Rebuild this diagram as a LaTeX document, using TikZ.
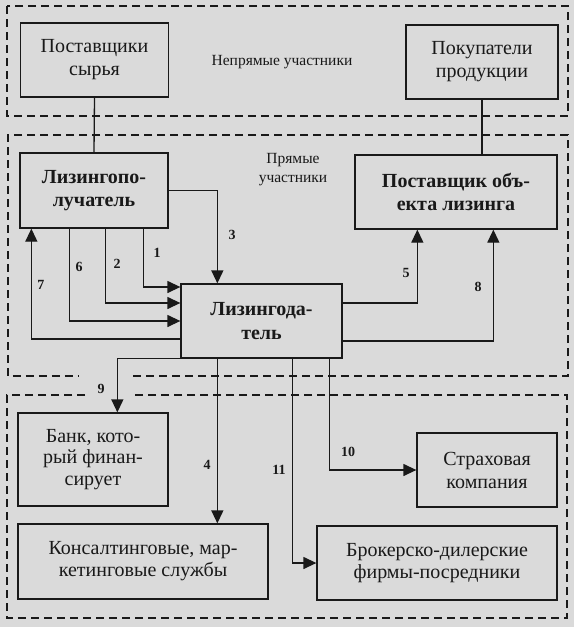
\documentclass[tikz,border=0pt]{standalone}
\usepackage{fontspec}
\setmainfont{Liberation Serif}
\usetikzlibrary{arrows.meta}
\definecolor{paper}{RGB}{218,218,218}
\definecolor{ink}{RGB}{25,25,25}

\begin{document}
\begin{tikzpicture}[
          x=1pt, y=-1pt,
          box/.style={
            draw=ink,
            line width=1.3pt,
            align=center,
            text=ink,
            font=\fontsize{20}{23}\selectfont,
          },
          bbox/.style={
            box,
            font=\bfseries\fontsize{20}{23.5}\selectfont,
          },
          zone/.style={draw=ink, line width=2pt, dash pattern=on 8pt off 5pt},
          num/.style={font=\bfseries\fontsize{14}{16}\selectfont, text=ink},
          note/.style={align=center, text=ink, font=\fontsize{15.5}{19}\selectfont},
          arr/.style={draw=ink, line width=1.3pt, -{Triangle[length=13pt,width=12pt]}},
          link/.style={draw=ink, line width=1.3pt},
          vh/.style={to path={|- (\tikztotarget)}},
          hv/.style={to path={-| (\tikztotarget)}},
        ]
          \useasboundingbox[fill=paper] (0,0) rectangle (574,627);

          % groups of participants
          \draw[zone] (7,6) rectangle (568,116);
          \draw[zone] (133,376) -- (568,376) -- (568,135) -- (8,135) -- (8,376) -- (79,376);
          \draw[zone] (85,395) -- (7,395) -- (7,618) -- (567,618) -- (567,395) -- (133,395);

          \node[note](indirect) at (282,62) {Непрямые участники};
          \node[note](direct) at (293,170) {Прямые\\участники};

          % indirect participants
          \node[box, minimum width=148pt, minimum height=74pt](raw) at (94.5,60)
            {Поставщики\\сырья};
          \node[box, minimum width=152pt, minimum height=74pt](buyers) at (482,62)
            {Покупатели\\продукции};

          % direct participants
          \node[bbox, minimum width=148pt, minimum height=75pt](lessee) at (94,190.5)
            {Лизингопо-\\лучатель};
          \node[bbox, minimum width=202pt, minimum height=74pt](vendor) at (456,192)
            {Поставщик объ-\\екта лизинга};
          \node[bbox, minimum width=161pt, minimum height=74pt](lessor) at (261.5,321)
            {Лизингода-\\тель};

          % other participants
          \node[box, font=\fontsize{20}{21.5}\selectfont,
                minimum width=150pt, minimum height=93pt](bank) at (93,459.5)
            {Банк, кото-\\рый финан-\\сирует};
          \node[box, minimum width=140pt, minimum height=74pt](insurer) at (487,470)
            {Страховая\\компания};
          \node[box, font=\fontsize{20}{22}\selectfont,
                minimum width=250pt, minimum height=75pt](consult) at (143,561.5)
            {Консалтинговые, мар-\\кетинговые службы};
          \node[box, font=\fontsize{20}{22}\selectfont,
                minimum width=240pt, minimum height=74pt](broker) at (437,563)
            {Брокерско-дилерские\\фирмы-посредники};

          \node[num](l1) at (157,253) {1};
          \node[num](l2) at (117,264) {2};
          \node[num](l3) at (232,235) {3};
          \node[num](l4) at (207,465) {4};
          \node[num](l5) at (406,273) {5};
          \node[num](l6) at (79,267) {6};
          \node[num](l7) at (41,285) {7};
          \node[num](l8) at (478,287) {8};
          \node[num](l9) at (101,389) {9};
          \node[num](l10) at (348,452) {10};
          \node[num](l11) at (279,470) {11};

          \draw
              (raw.south) edge [link] (lessee.north)
              (buyers.south) edge [link] (buyers.south |- vendor.north)

              ([xshift=124pt]lessee.south west) edge [arr,vh] ([yshift=34pt]lessor.west)
              ([xshift=86pt]lessee.south west) edge [arr,vh] ([yshift=18pt]lessor.west)
              ([xshift=50pt]lessee.south west) edge [arr,vh] (lessor.west)
              (lessee.east) edge [arr,hv] ([xshift=37pt]lessor.north west)
              ([yshift=-18pt]lessor.west) edge [arr,hv] ([xshift=12pt]lessee.south west)

              ([yshift=18pt]lessor.east) edge [arr,hv] ([xshift=63pt]vendor.south west)
              ([yshift=-20pt]lessor.east) edge [arr,hv] ([xshift=139pt]vendor.south west)

              (lessor.south west) edge [arr,hv] ([xshift=100pt]bank.north west)
              ([xshift=37pt]lessor.south west) edge [arr] ([xshift=200pt]consult.north west)
              ([xshift=112pt]lessor.south west) edge [arr,vh] (broker.west)
              ([xshift=149pt]lessor.south west) edge [arr,vh] (insurer.west);
        \end{tikzpicture}
\end{document}
